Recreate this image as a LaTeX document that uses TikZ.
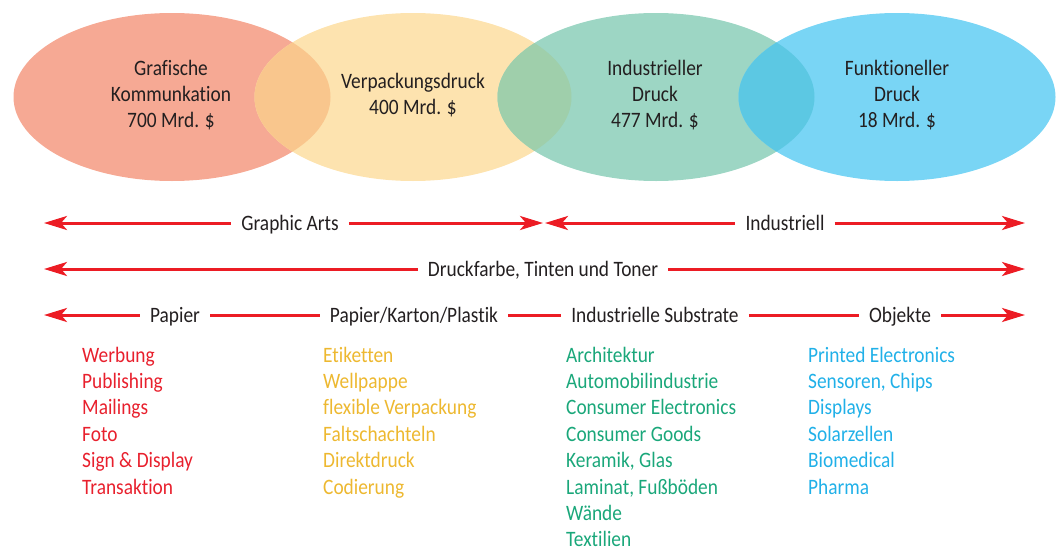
\documentclass[tikz,border=0pt]{standalone}
\usepackage{fontspec}
\setmainfont{Carlito}[FakeStretch=0.88, Ligatures=NoCommon]
\usetikzlibrary{arrows.meta}
\definecolor{ellred}{HTML}{F6A994}
\definecolor{ellyel}{HTML}{FDE3AF}
\definecolor{ellgrn}{HTML}{9DD6C4}
\definecolor{ellblu}{HTML}{79D5F5}
\definecolor{lensry}{HTML}{F9C68D}
\definecolor{lensyg}{HTML}{9FCFAB}
\definecolor{lensgb}{HTML}{5CC8E3}
\definecolor{arrred}{HTML}{EC1C24}
\definecolor{darktxt}{HTML}{231F20}
\definecolor{lred}{HTML}{E8202D}
\definecolor{lyel}{HTML}{EDB830}
\definecolor{lgrn}{HTML}{1AA77A}
\definecolor{lblu}{HTML}{20B0E8}
\tikzset{
  ell/.style={x radius=158.5, y radius=84},
  etext/.style={align=center, text=darktxt, inner sep=0pt},
  rowlab/.style={text=darktxt, inner xsep=10pt, inner ysep=0pt, text height=14pt, text depth=0pt},
  arr/.style={draw=arrred, line width=3pt},
  arrtip/.tip={Stealth[length=23pt, width=14pt, inset=6pt]},
  item/.style={anchor=base west, inner sep=0pt}
}
\begin{document}
\begin{tikzpicture}[x=1pt, y=-1pt, font=\fontsize{22}{26.4}\selectfont]
\useasboundingbox (0,0) rectangle (1060,549);
% ellipses
\coordinate (c1) at (172,97);
\coordinate (c2) at (413,97);
\coordinate (c3) at (656,97);
\coordinate (c4) at (897,97);
\fill[ellred] (c1) ellipse [ell];
\fill[ellyel] (c2) ellipse [ell];
\fill[ellgrn] (c3) ellipse [ell];
\fill[ellblu] (c4) ellipse [ell];
\begin{scope}
  \clip (c1) ellipse [ell];
  \fill[lensry] (c2) ellipse [ell];
\end{scope}
\begin{scope}
  \clip (c2) ellipse [ell];
  \fill[lensyg] (c3) ellipse [ell];
\end{scope}
\begin{scope}
  \clip (c3) ellipse [ell];
  \fill[lensgb] (c4) ellipse [ell];
\end{scope}
\node[etext] (t1) at (171,95) {Grafische\\Kommunkation\\700 Mrd. \$};
\node[etext] (t2) at (413,95) {Verpackungsdruck\\400 Mrd. \$};
\node[etext] (t3) at (655,95) {Industrieller\\Druck\\477 Mrd. \$};
\node[etext] (t4) at (897,95) {Funktioneller\\Druck\\18 Mrd. \$};
% row 1
\coordinate (r1a) at (44,223);
\coordinate (r1b) at (543,223);
\coordinate (r1c) at (545,223);
\coordinate (r1d) at (1025,223);
\node[rowlab] (ga) at (290,223) {Graphic Arts};
\node[rowlab] (ind) at (785,223) {Industriell};
\draw[arr, arrtip-] (r1a) -- (ga);
\draw[arr, -arrtip] (ga) -- (r1b);
\draw[arr, arrtip-] (r1c) -- (ind);
\draw[arr, -arrtip] (ind) -- (r1d);
% row 2
\coordinate (r2a) at (44,269);
\coordinate (r2d) at (1025,269);
\node[rowlab] (dtt) at (543,269) {Druckfarbe, Tinten und Toner};
\draw[arr, arrtip-] (r2a) -- (dtt);
\draw[arr, -arrtip] (dtt) -- (r2d);
% row 3
\coordinate (r3a) at (44,315);
\coordinate (r3d) at (1025,315);
\node[rowlab] (pap) at (175,315) {Papier};
\node[rowlab] (pkp) at (414,315) {Papier/Karton/Plastik};
\node[rowlab] (isub) at (655,315) {Industrielle Substrate};
\node[rowlab] (obj) at (900,315) {Objekte};
\draw[arr, arrtip-] (r3a) -- (pap);
\draw[arr] (pap) -- (pkp);
\draw[arr] (pkp) -- (isub);
\draw[arr] (isub) -- (obj);
\draw[arr, -arrtip] (obj) -- (r3d);
% lists
\foreach \t [count=\i] in {Werbung,Publishing,Mailings,Foto,Sign \& Display,Transaktion}
  \node[item, text=lred] (red\i) at (82,{362+26.4*(\i-1)}) {\t};
\foreach \t [count=\i] in {Etiketten,Wellpappe,flexible Verpackung,Faltschachteln,Direktdruck,Codierung}
  \node[item, text=lyel] (yel\i) at (323,{362+26.4*(\i-1)}) {\t};
\foreach \t [count=\i] in {Architektur,Automobilindustrie,Consumer Electronics,Consumer Goods,{Keramik, Glas},{Laminat, Fußböden},Wände,Textilien}
  \node[item, text=lgrn] (grn\i) at (566,{362+26.4*(\i-1)}) {\t};
\foreach \t [count=\i] in {Printed Electronics,{Sensoren, Chips},Displays,Solarzellen,Biomedical,Pharma}
  \node[item, text=lblu] (blu\i) at (808,{362+26.4*(\i-1)}) {\t};
\end{tikzpicture}
\end{document}
